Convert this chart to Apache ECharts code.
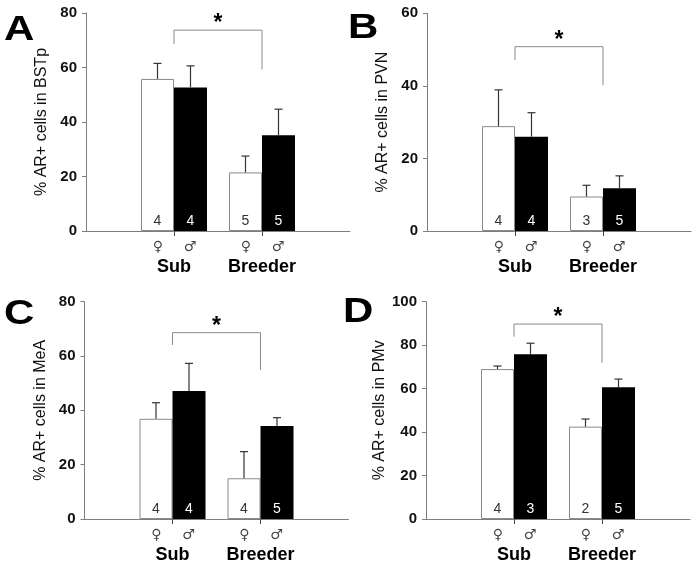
<!DOCTYPE html>
<html>
<head>
<meta charset="utf-8">
<script src="https://cdn.jsdelivr.net/npm/echarts@6/dist/echarts.min.js"></script>
<style>
html,body{margin:0;padding:0;background:#fff;}
#chart{width:700px;height:569px;}
</style>
</head>
<body>
<div id="chart"></div>
<script>
// ---------- data ----------
const categories = ['Sub', 'Breeder'];
const sexLabels = ['\u2640', '\u2642'];
const panelLetters = ['A', 'B', 'C', 'D'];
const yTitles = ['% AR+ cells in BSTp', '% AR+ cells in PVN', '% AR+ cells in MeA', '% AR+ cells in PMv'];
const yMax = [80, 60, 80, 100];
const yInterval = 20;

// Panel A (BSTp)
const femaleA = [55.8, 21.5];
const femaleSemA = [5.7, 6.0];
const maleA = [52.7, 35.1];
const maleSemA = [7.9, 9.6];
const nFemaleA = [4, 5];
const nMaleA = [4, 5];
const bracketA = [73.7, 68.6, 59.3]; // top, left end, right end

// Panel B (PVN)
const femaleB = [28.9, 9.5];
const femaleSemB = [10.0, 3.1];
const maleB = [26.0, 11.8];
const maleSemB = [6.6, 3.4];
const nFemaleB = [4, 3];
const nMaleB = [4, 5];
const bracketB = [50.8, 47.1, 40.2];

// Panel C (MeA)
const femaleC = [36.9, 15.0];
const femaleSemC = [5.9, 9.8];
const maleC = [47.1, 34.2];
const maleSemC = [10.2, 3.1];
const nFemaleC = [4, 4];
const nMaleC = [4, 5];
const bracketC = [68.6, 64.1, 54.9];

// Panel D (PMv)
const femaleD = [69.0, 42.5];
const femaleSemD = [1.4, 3.5];
const maleD = [75.8, 60.6];
const maleSemD = [5.1, 3.8];
const nFemaleD = [4, 2];
const nMaleD = [3, 5];
const bracketD = [89.7, 83.9, 71.9];

const panels = [
  {f: femaleA, fs: femaleSemA, m: maleA, ms: maleSemA, nf: nFemaleA, nm: nMaleA, br: bracketA},
  {f: femaleB, fs: femaleSemB, m: maleB, ms: maleSemB, nf: nFemaleB, nm: nMaleB, br: bracketB},
  {f: femaleC, fs: femaleSemC, m: maleC, ms: maleSemC, nf: nFemaleC, nm: nMaleC, br: bracketC},
  {f: femaleD, fs: femaleSemD, m: maleD, ms: maleSemD, nf: nFemaleD, nm: nMaleD, br: bracketD}
];

// ---------- layout / style ----------
const gridBoxes = [
  {left: 86, top: 13, width: 264, height: 218},
  {left: 427, top: 13.3, width: 264, height: 217.7},
  {left: 84.5, top: 301.7, width: 264, height: 217.3},
  {left: 426, top: 301.7, width: 264, height: 217.3}
];
const letterPos = [[4, 13], [348, 11], [4, 297], [343, 295]];
const FONT = 'Liberation Sans, Arial, Helvetica, sans-serif';
const BAR_W = 33;
const AXIS_COLOR = '#7f7f7f';
const paddedCats = [''].concat(categories, ['']);
const showMid = (i) => i >= 1 && i <= categories.length;

const grids = [], xAxes = [], yAxes = [], series = [];

panels.forEach((p, k) => {
  grids.push(Object.assign({containLabel: false}, gridBoxes[k]));
  xAxes.push({
    type: 'category', gridIndex: k, data: paddedCats, boundaryGap: false,
    axisLine: {lineStyle: {color: AXIS_COLOR, width: 1}},
    axisTick: {show: true, length: 5, interval: showMid, lineStyle: {color: '#444'}},
    splitLine: {show: false},
    axisLabel: {
      interval: showMid, margin: 8, fontFamily: FONT,
      formatter: (v) => v ? '{s|' + sexLabels[0] + '}{s|' + sexLabels[1] + '}\n{g|' + v + '}' : '',
      rich: {
        s: {width: 32, align: 'center', fontSize: 14, lineHeight: 17, color: '#444', fontFamily: 'DejaVu Sans, sans-serif'},
        g: {fontSize: 18, fontWeight: 'bold', lineHeight: 22, color: '#000', fontFamily: FONT}
      }
    }
  });
  yAxes.push({
    type: 'value', gridIndex: k, min: 0, max: yMax[k], interval: yInterval,
    name: yTitles[k], nameLocation: 'middle', nameGap: 36,
    nameTextStyle: {fontSize: 16, color: '#111', fontFamily: FONT},
    axisLine: {show: true, lineStyle: {color: AXIS_COLOR, width: 1}},
    axisTick: {show: true, length: 4, lineStyle: {color: AXIS_COLOR}},
    splitLine: {show: false},
    axisLabel: {fontSize: 15, fontWeight: 'bold', color: '#111', margin: 9, fontFamily: FONT}
  });

  const pad = (arr) => ['-'].concat(arr, ['-']);
  series.push({
    type: 'bar', name: 'female', xAxisIndex: k, yAxisIndex: k,
    data: pad(p.f), barWidth: BAR_W, barGap: '0%',
    itemStyle: {color: '#fff', borderColor: '#8a8a8a', borderWidth: 1},
    label: {show: true, position: 'insideBottom', distance: 3, fontSize: 14, color: '#333', fontFamily: FONT,
      formatter: (d) => String(p.nf[d.dataIndex - 1])},
    silent: true, animation: false
  });
  series.push({
    type: 'bar', name: 'male', xAxisIndex: k, yAxisIndex: k,
    data: pad(p.m), barWidth: BAR_W, barGap: '0%',
    itemStyle: {color: '#000'},
    label: {show: true, position: 'insideBottom', distance: 3, fontSize: 14, color: '#fff', fontFamily: FONT,
      formatter: (d) => String(p.nm[d.dataIndex - 1])},
    silent: true, animation: false
  });

  // error bars (upper only)
  const errData = [];
  categories.forEach((c, i) => {
    errData.push([i + 1, p.f[i], p.f[i] + p.fs[i], -1]);
    errData.push([i + 1, p.m[i], p.m[i] + p.ms[i], 1]);
  });
  series.push({
    type: 'custom', xAxisIndex: k, yAxisIndex: k, data: errData, z: 5, silent: true, animation: false,
    encode: {x: 0, y: 2},
    renderItem: (params, api) => {
      const base = api.coord([api.value(0), api.value(1)]);
      const top = api.coord([api.value(0), api.value(2)]);
      const x = base[0] + api.value(3) * BAR_W / 2;
      const st = {stroke: '#333', lineWidth: 1.2};
      return {type: 'group', children: [
        {type: 'line', shape: {x1: x, y1: base[1], x2: x, y2: top[1]}, style: st},
        {type: 'line', shape: {x1: x - 4, y1: top[1], x2: x + 4, y2: top[1]}, style: st}
      ]};
    }
  });

  // significance bracket
  series.push({
    type: 'custom', xAxisIndex: k, yAxisIndex: k, data: [[1, p.br[0], 2, p.br[1], p.br[2]]],
    z: 5, silent: true, animation: false,
    encode: {x: 0, y: 1},
    renderItem: (params, api) => {
      const tl = api.coord([api.value(0), api.value(1)]);
      const tr = api.coord([api.value(2), api.value(1)]);
      const bl = api.coord([api.value(0), api.value(3)]);
      const brr = api.coord([api.value(2), api.value(4)]);
      return {type: 'group', children: [
        {type: 'polyline', shape: {points: [bl, tl, tr, brr]}, style: {stroke: '#8a8a8a', lineWidth: 1, fill: null}},
        {type: 'text', style: {text: '*', x: (tl[0] + tr[0]) / 2, y: tl[1] + 5, align: 'center', verticalAlign: 'bottom',
          fontSize: 23, fontWeight: 'bold', fill: '#000', fontFamily: FONT}}
      ]};
    }
  });
});

const graphic = panelLetters.map((L, k) => ({
  type: 'text', x: letterPos[k][0], y: letterPos[k][1], scaleX: 1.2,
  style: {text: L, fontSize: 35, fontWeight: 'bold', fill: '#000', fontFamily: FONT, align: 'left', verticalAlign: 'top'}
}));

const chart = echarts.init(document.getElementById('chart'), null, {renderer: 'canvas'});
chart.setOption({
  animation: false,
  backgroundColor: '#fff',
  textStyle: {fontFamily: FONT},
  grid: grids, xAxis: xAxes, yAxis: yAxes, series: series, graphic: graphic
});
</script>
</body>
</html>
